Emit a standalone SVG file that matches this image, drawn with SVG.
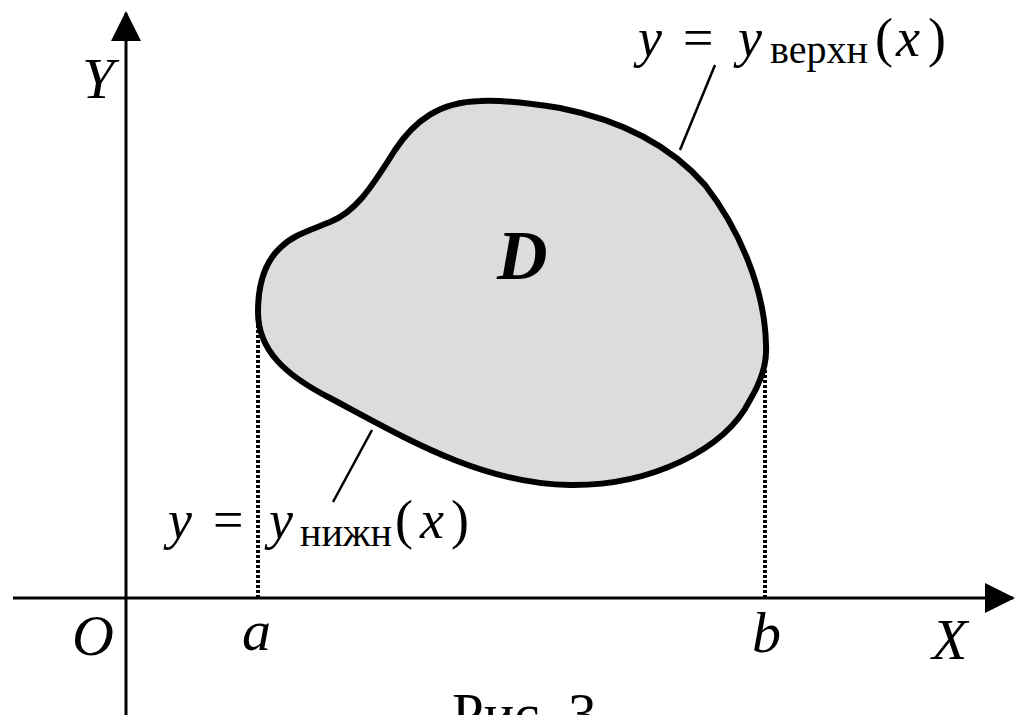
<svg xmlns="http://www.w3.org/2000/svg" width="1015" height="715" viewBox="0 0 1015 715">
<style>
.t{font-family:"Liberation Serif","Times New Roman",serif;fill:#000}
.i{font-style:italic}
.ax{stroke:#000;stroke-width:3;fill:none}
.dot{stroke:#000;stroke-width:4;stroke-dasharray:3 2;fill:none}
.lead{stroke:#000;stroke-width:2.5;fill:none}
</style>
<defs>
<marker id="arr" markerUnits="userSpaceOnUse" markerWidth="30" markerHeight="30" viewBox="0 0 30 30" refX="28" refY="15" orient="auto">
<path d="M0,0 L30,15 L0,30 Z" fill="#000"/>
</marker>
</defs>
<rect width="1015" height="715" fill="#fff"/>
<g id="region-D">
<path d="M258,312 C258,350 285,375 330,398 C400,435 480,484 570,485 C650,486 725,450 750,400 C762,380 767,360 766,345 C765,290 740,230 705,185 C670,145 620,120 560,108 C530,103 500,100 480,101 C440,102 415,120 395,150 C370,190 355,212 330,222 C305,232 292,236 280,248 C262,265 258,290 258,312 Z" fill="#dcdcdc" stroke="#000" stroke-width="6"/>
<text class="t i" x="497" y="279" font-size="70" font-weight="bold">D</text>
</g>
<g id="connectors">
<line class="ax" x1="13" y1="598" x2="1013" y2="598" marker-end="url(#arr)"/>
<line class="ax" x1="126" y1="715" x2="126" y2="13" marker-end="url(#arr)"/>
<line class="dot" x1="258" y1="305" x2="258" y2="597"/>
<line class="dot" x1="765" y1="345" x2="765" y2="597"/>
<line class="lead" x1="715" y1="65" x2="680" y2="150"/>
<line class="lead" x1="333" y1="502" x2="372" y2="430"/>
</g>
<g id="labels">
<text class="t i" x="82" y="98" font-size="58">Y</text>
<text class="t i" x="72" y="655" font-size="58">O</text>
<text class="t i" x="242" y="650" font-size="58">a</text>
<text class="t i" x="752" y="652" font-size="58">b</text>
<text class="t i" x="932" y="659" font-size="58">X</text>
<text class="t" y="56" font-size="54"><tspan class="i" x="638">y</tspan><tspan x="683">=</tspan><tspan class="i" x="738">y</tspan><tspan font-size="40" x="770" y="63">верхн</tspan><tspan x="875" y="56">(</tspan><tspan class="i" x="896">x</tspan><tspan x="928">)</tspan></text>
<text class="t" y="538" font-size="54"><tspan class="i" x="168">y</tspan><tspan x="213">=</tspan><tspan class="i" x="269">y</tspan><tspan font-size="40" x="300" y="546">нижн</tspan><tspan x="395" y="538">(</tspan><tspan class="i" x="420">x</tspan><tspan x="451">)</tspan></text>
<text class="t" x="452" y="733" font-size="57">Рис. 3</text>
</g>
</svg>
